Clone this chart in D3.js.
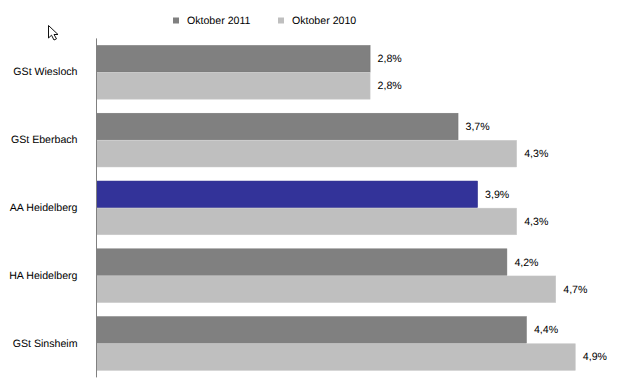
<!DOCTYPE html>
<html><head><meta charset="utf-8">
<script src="https://cdn.jsdelivr.net/npm/d3@7"></script>
<style>html,body{margin:0;padding:0;background:#fff}svg{display:block}text{font-family:"Liberation Sans",Arial,sans-serif;fill:#000;text-rendering:geometricPrecision}</style>
</head><body><svg id="c" width="634" height="382"></svg>
<script>
const categories=["GSt Wiesloch","GSt Eberbach","AA Heidelberg","HA Heidelberg","GSt Sinsheim"];
const seriesNames=["Oktober 2011","Oktober 2010"];
const values2011=[2.8,3.7,3.9,4.2,4.4];
const values2010=[2.8,4.3,4.3,4.7,4.9];
const seriesValues=[values2011,values2010];
const colors=["#808080","#bfbfbf"];
const edges=["#747474","#c8c8c8"];
const highlightCategory="AA Heidelberg";
const highlightColor="#333399";
const highlightEdge="#2b2b88";
const fmt=v=>v.toFixed(1).replace(".",",")+"%";
const fontSize=10.6;

const svg=d3.select("#c");
const x=d3.scaleLinear().domain([0,4.9]).range([96.5,575.3]);
const y=d3.scaleBand().domain(categories).range([38.4,377.4]).paddingInner(0.2).paddingOuter(0.1);
const y1=d3.scaleBand().domain(seriesNames).range([0,y.bandwidth()]);

const g=svg.selectAll("g.cat").data(categories).join("g").attr("class","cat")
  .attr("transform",d=>`translate(0,${y(d)})`);
seriesNames.forEach((s,si)=>{
  g.append("rect").attr("x",x(0)).attr("y",y1(s)+0.25)
   .attr("width",(d,i)=>x(seriesValues[si][i])-x(0)).attr("height",y1.bandwidth()-0.5)
   .attr("fill",d=>si===0&&d===highlightCategory?highlightColor:colors[si])
   .attr("stroke",d=>si===0&&d===highlightCategory?highlightEdge:edges[si])
   .attr("stroke-width",0.5);
  g.append("text").attr("x",(d,i)=>x(seriesValues[si][i])+7.5)
   .attr("y",y1(s)+y1.bandwidth()/2+3.4).attr("font-size",fontSize)
   .text((d,i)=>fmt(seriesValues[si][i]));
});
const axis=d3.axisLeft(y).tickSize(0).tickPadding(19).offset(0);
const ag=svg.append("g").attr("transform",`translate(${x(0)},0)`).call(axis);
ag.select(".domain").attr("stroke","#808080").attr("stroke-width",1);
ag.selectAll("text").attr("font-size",fontSize).attr("font-family",'"Liberation Sans",Arial,sans-serif').attr("fill","#000").attr("dy","0.3em");

const legendX=[173,278];
const leg=svg.selectAll("g.leg").data(seriesNames).join("g").attr("class","leg")
  .attr("transform",(d,i)=>`translate(${legendX[i]},20)`);
leg.append("rect").attr("y",-2.5).attr("width",6).attr("height",6).attr("fill",(d,i)=>colors[i]);
leg.append("text").attr("x",14).attr("y",4).attr("font-size",fontSize).text(d=>d);

svg.append("path").attr("d","M48.5 25.5V38L51.5 35.2L54 40L56.5 38.8L54 34.5H58Z")
  .attr("fill","#fff").attr("stroke","#111").attr("stroke-width",1);
</script></body></html>
